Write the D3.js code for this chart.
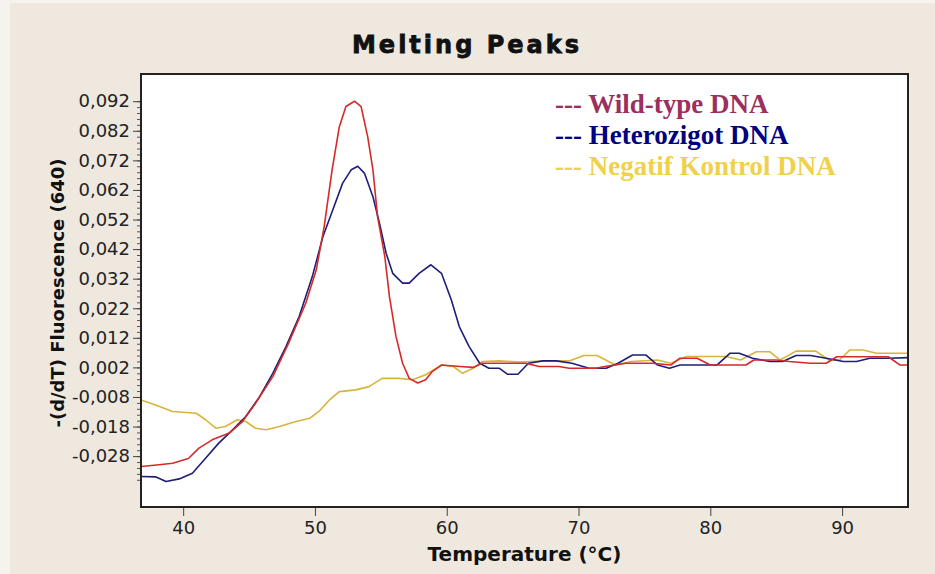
<!DOCTYPE html>
<html>
<head>
<meta charset="utf-8">
<script src="https://cdn.jsdelivr.net/npm/d3@7"></script>
<style>
  html, body { margin: 0; padding: 0; background: #f6f3ef; }
  svg { display: block; }
</style>
</head>
<body>
<svg id="chart" width="935" height="574"></svg>
<script>
// Melting curve derivative, -(d/dT) fluorescence at 640 nm, [temperature °C, value]
const wildType = [
  [36.8,-0.0315],[38.0,-0.0310],[39.2,-0.0304],[40.4,-0.0288],[41.2,-0.0253],[42.2,-0.0225],
  [43.5,-0.0202],[44.5,-0.0163],[45.5,-0.0101],[46.8,-0.0011],[48.0,0.0102],[49.3,0.0237],
  [50.1,0.0350],[50.7,0.0496],[51.3,0.0688],[51.85,0.0834],[52.35,0.0902],[53.0,0.0920],
  [53.5,0.0902],[54.0,0.0800],[54.4,0.0688],[54.75,0.0530],[55.3,0.0395],[55.65,0.0260],
  [56.15,0.0124],[56.65,0.0034],[57.15,-0.0017],[57.8,-0.0033],[58.4,-0.0022],[58.9,0.0006],
  [59.6,0.0028],[61.0,0.0023],[62.0,0.0020],[62.7,0.0034],[66.0,0.0034],[67.0,0.0023],
  [68.5,0.0023],[69.3,0.0017],[71.3,0.0017],[72.0,0.0023],[73.6,0.0034],[75.6,0.0034],
  [77.0,0.0028],[77.7,0.0051],[79.0,0.0051],[80.0,0.0028],[82.7,0.0028],[83.3,0.0045],
  [85.0,0.0045],[86.0,0.0040],[87.6,0.0034],[88.8,0.0034],[89.6,0.0056],[91.0,0.0056],
  [93.5,0.0056],[94.4,0.0028],[95.0,0.0028]
];
const heterozygote = [
  [36.8,-0.0349],[37.9,-0.0350],[38.7,-0.0366],[39.7,-0.0357],[40.7,-0.0338],[41.7,-0.0287],
  [42.7,-0.0236],[43.75,-0.0191],[44.75,-0.0146],[45.8,-0.0079],[46.8,0.0000],[47.8,0.0090],
  [48.8,0.0192],[49.8,0.0327],[50.6,0.0462],[51.35,0.0552],[52.1,0.0643],[52.75,0.0688],
  [53.25,0.0700],[53.75,0.0677],[54.4,0.0597],[54.9,0.0507],[55.4,0.0406],[55.9,0.0338],
  [56.65,0.0305],[57.15,0.0305],[57.9,0.0338],[58.8,0.0367],[59.6,0.0338],[60.35,0.0248],
  [60.95,0.0158],[61.7,0.0090],[62.5,0.0034],[63.2,0.0017],[64.0,0.0017],[64.6,-0.0003],
  [65.4,-0.0003],[66.2,0.0034],[67.3,0.0042],[68.3,0.0042],[69.5,0.0034],[70.8,0.0017],
  [72.1,0.0017],[73.0,0.0034],[74.1,0.0062],[75.1,0.0062],[76.0,0.0028],[76.9,0.0017],
  [77.7,0.0028],[80.5,0.0028],[81.5,0.0068],[82.2,0.0068],[83.2,0.0051],[84.5,0.0040],
  [85.5,0.0040],[86.5,0.0060],[87.6,0.0060],[88.8,0.0051],[90.1,0.0040],[91.1,0.0040],
  [92.1,0.0051],[93.6,0.0051],[95.0,0.0053]
];
const negativeControl = [
  [36.8,-0.0090],[37.9,-0.0107],[39.2,-0.0129],[41.0,-0.0135],[41.7,-0.0157],[42.5,-0.0186],
  [43.2,-0.0180],[44.1,-0.0157],[44.75,-0.0163],[45.5,-0.0186],[46.3,-0.0191],[47.3,-0.0180],
  [48.55,-0.0163],[49.6,-0.0152],[50.3,-0.0129],[51.1,-0.0090],[51.85,-0.0062],[53.1,-0.0056],
  [54.1,-0.0045],[55.1,-0.0017],[56.4,-0.0017],[57.4,-0.0022],[58.4,-0.0005],[59.6,0.0028],
  [60.5,0.0023],[61.2,0.0000],[62.0,0.0017],[62.7,0.0040],[64.0,0.0042],[65.5,0.0038],
  [67.5,0.0042],[69.3,0.0042],[70.4,0.0060],[71.4,0.0060],[72.8,0.0028],[74.0,0.0040],
  [76.0,0.0045],[77.0,0.0034],[78.2,0.0057],[81.2,0.0057],[82.3,0.0045],[83.5,0.0073],
  [84.5,0.0073],[85.3,0.0045],[86.5,0.0075],[88.0,0.0075],[89.0,0.0045],[89.8,0.0045],
  [90.6,0.0079],[91.6,0.0079],[92.6,0.0068],[95.0,0.0068]
];

const seriesNames = ["Wild-type DNA", "Heterozigot DNA", "Negatif Kontrol DNA"];
const xTicks = [40, 50, 60, 70, 80, 90];
const yTicks = [0.092, 0.082, 0.072, 0.062, 0.052, 0.042, 0.032, 0.022, 0.012, 0.002, -0.008, -0.018, -0.028];

const lineColors = ["#d42a2a", "#1e1e78", "#d8b43c"];
const legendColors = ["#9b2f5e", "#000080", "#f0d14a"];

const svg = d3.select("#chart");
const W = 935, H = 574;
const plot = { left: 141, right: 908, top: 74, bottom: 507 };

// window background
svg.append("rect").attr("x", 10).attr("y", 3).attr("width", W - 10).attr("height", H - 3)
  .attr("fill", "#efe8df");

const x = d3.scaleLinear().domain([36.8, 95.0]).range([plot.left, plot.right]);
const y = d3.scaleLinear().domain([-0.0452, 0.1012]).range([plot.bottom, plot.top]);

const fmt = v => d3.format(".3f")(v).replace(".", ",").replace("−", "-");

// plot area
svg.append("rect")
  .attr("x", plot.left).attr("y", plot.top)
  .attr("width", plot.right - plot.left).attr("height", plot.bottom - plot.top)
  .attr("fill", "#ffffff");

// clip for curves
svg.append("clipPath").attr("id", "clip").append("rect")
  .attr("x", plot.left).attr("y", plot.top)
  .attr("width", plot.right - plot.left).attr("height", plot.bottom - plot.top);

const line = d3.line().x(d => x(d[0])).y(d => y(d[1])).curve(d3.curveLinear);
const curves = svg.append("g").attr("clip-path", "url(#clip)");
[negativeControl, heterozygote, wildType].forEach((s, i) => {
  const ci = [2, 1, 0][i];
  curves.append("path").datum(s)
    .attr("d", line)
    .attr("fill", "none")
    .attr("stroke", lineColors[ci])
    .attr("stroke-width", 1.6)
    .attr("stroke-linejoin", "round");
});

// y axis: major ticks with labels, minor ticks every 0.002
const yMinor = d3.range(-0.036, 0.0925, 0.002);
const yAxisMinor = d3.axisLeft(y).tickValues(yMinor).tickSize(4).tickFormat("");
svg.append("g").attr("transform", `translate(${plot.left},0)`).call(yAxisMinor)
  .call(g => g.select(".domain").remove())
  .call(g => g.selectAll("line").attr("stroke", "#555"));

const yAxis = d3.axisLeft(y).tickValues(yTicks).tickSize(8).tickPadding(3).tickFormat(fmt);
svg.append("g").attr("transform", `translate(${plot.left},0)`).call(yAxis)
  .call(g => g.select(".domain").remove())
  .call(g => g.selectAll("line").attr("stroke", "#444"))
  .call(g => g.selectAll("text")
    .attr("font-family", "DejaVu Sans, Verdana, sans-serif")
    .attr("font-size", 18).attr("fill", "#222"));

// x axis
const xAxis = d3.axisBottom(x).tickValues(xTicks).tickSize(9).tickPadding(5).tickFormat(d3.format("d"));
svg.append("g").attr("transform", `translate(0,${plot.bottom})`).call(xAxis)
  .call(g => g.select(".domain").remove())
  .call(g => g.selectAll("line").attr("stroke", "#444"))
  .call(g => g.selectAll("text")
    .attr("font-family", "DejaVu Sans, Verdana, sans-serif")
    .attr("font-size", 18).attr("fill", "#222"));

// frame
svg.append("rect")
  .attr("x", plot.left).attr("y", plot.top)
  .attr("width", plot.right - plot.left).attr("height", plot.bottom - plot.top)
  .attr("fill", "none").attr("stroke", "#222").attr("stroke-width", 2);

// title
svg.append("text")
  .attr("x", 467).attr("y", 53)
  .attr("text-anchor", "middle")
  .attr("font-family", "DejaVu Sans, Verdana, sans-serif")
  .attr("font-weight", "bold").attr("font-size", 24)
  .attr("letter-spacing", 3)
  .attr("fill", "#111").attr("stroke", "#111").attr("stroke-width", 0.8)
  .text("Melting Peaks");

// axis titles
svg.append("text")
  .attr("x", (plot.left + plot.right) / 2).attr("y", 561)
  .attr("text-anchor", "middle")
  .attr("font-family", "DejaVu Sans, Verdana, sans-serif")
  .attr("font-weight", "bold").attr("font-size", 20)
  .attr("fill", "#111")
  .text("Temperature (°C)");

svg.append("text")
  .attr("transform", "translate(64,293) rotate(-90)")
  .attr("text-anchor", "middle")
  .attr("font-family", "DejaVu Sans, Verdana, sans-serif")
  .attr("font-weight", "bold").attr("font-size", 18)
  .attr("fill", "#111")
  .text("-(d/dT) Fluorescence (640)");

// legend
const legend = svg.append("g").attr("transform", "translate(555,113)");
seriesNames.forEach((name, i) => {
  legend.append("text")
    .attr("x", 0).attr("y", i * 31)
    .attr("font-family", "Liberation Serif, Times New Roman, serif")
    .attr("font-weight", "bold").attr("font-size", 27)
    .attr("fill", legendColors[i])
    .text("--- " + name);
});
</script>
</body>
</html>
